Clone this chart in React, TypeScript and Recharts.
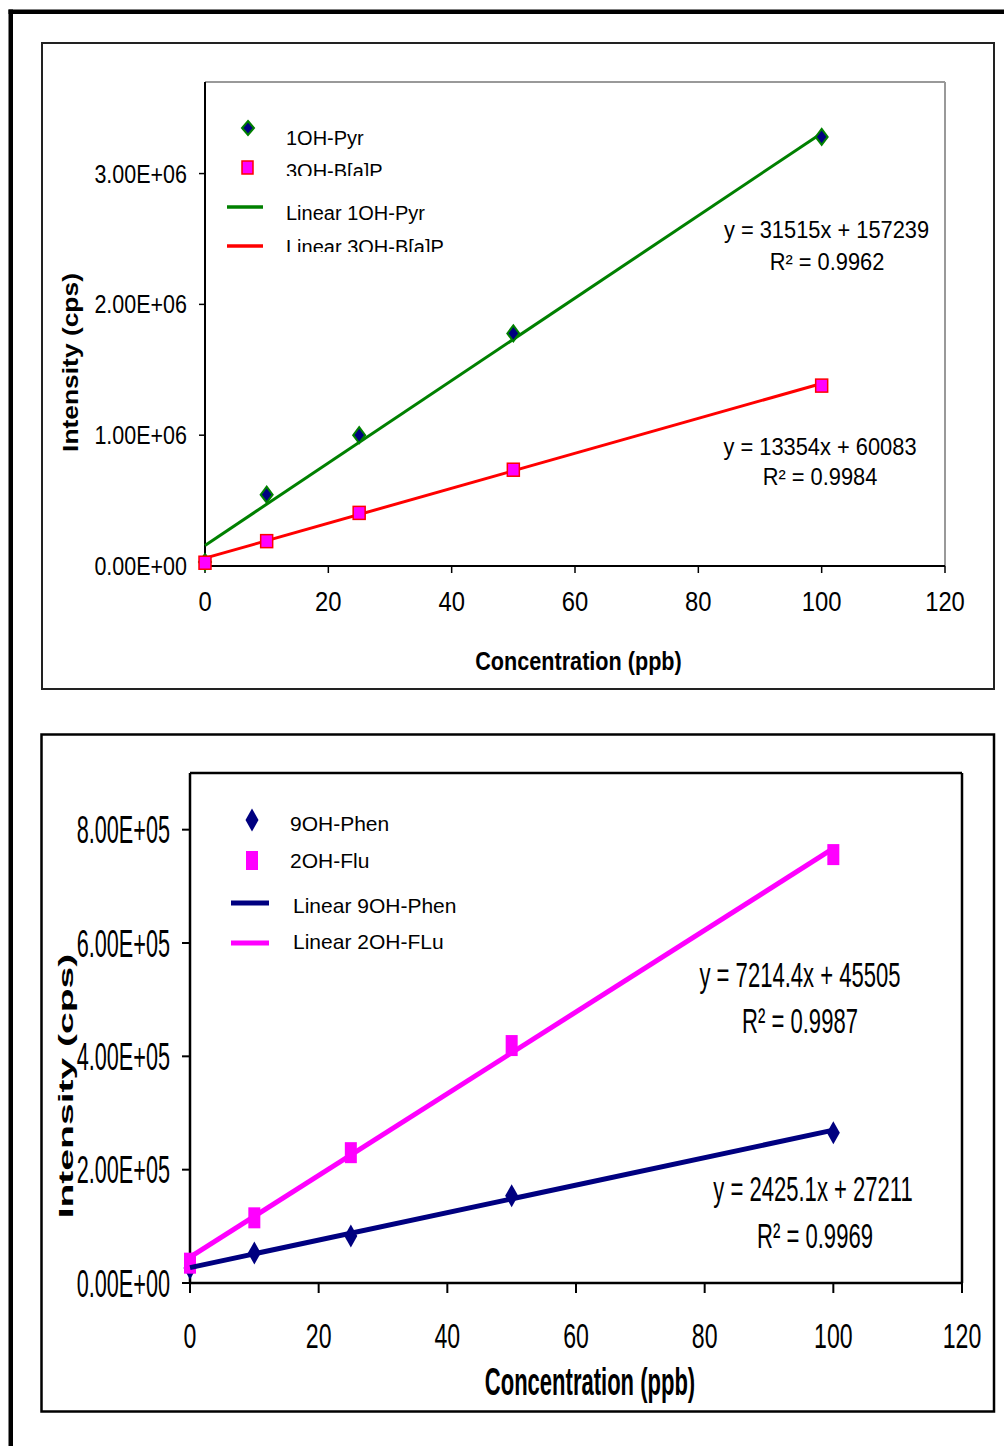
import React from 'react';
import { ScatterChart, Scatter, XAxis, YAxis, ReferenceLine, Legend } from 'recharts';

const FONT = '"Liberation Sans", Arial, Helvetica, sans-serif';

// ---------- Top chart data ----------
const concentrations = [0, 10, 25, 50, 100];
const pyr1OH = [30000, 545000, 1000000, 1778000, 3280000];
const bap3OH = [25000, 190000, 406000, 736000, 1379000];
const trendX = [0, 100];
const fitPyr1OH = [157239, 3308739];
const fitBap3OH = [60083, 1395483];
const xTicks = [0, 20, 40, 60, 80, 100, 120];
const xLabels = ['0', '20', '40', '60', '80', '100', '120'];
const topYTicks = [0, 1000000, 2000000, 3000000];
const topYLabels = ['0.00E+00', '1.00E+06', '2.00E+06', '3.00E+06'];
const topEq = ['y = 31515x + 157239', 'R² = 0.9962', 'y = 13354x + 60083', 'R² = 0.9984'];
const topLegend = ['1OH-Pyr', '3OH-B[a]P', 'Linear 1OH-Pyr', 'Linear 3OH-B[a]P'];

// ---------- Bottom chart data ----------
const phen9OH = [26500, 53000, 83000, 154000, 265000];
const flu2OH = [35000, 115000, 230000, 419000, 756000];
const fitPhen9OH = [27211, 269721];
const fitFlu2OH = [45505, 766945];
const botYTicks = [0, 200000, 400000, 600000, 800000];
const botYLabels = ['0.00E+00', '2.00E+05', '4.00E+05', '6.00E+05', '8.00E+05'];
const botEq = ['y = 7214.4x + 45505', 'R² = 0.9987', 'y = 2425.1x + 27211', 'R² = 0.9969'];
const botLegend = ['9OH-Phen', '2OH-Flu', 'Linear 9OH-Phen', 'Linear 2OH-FLu'];

const xTitle = 'Concentration (ppb)';
const yTitle = 'Intensity (cps)';

const NAVY = '#000080';
const GREEN = '#008000';
const RED = '#FF0000';
const MAGENTA = '#FF00FF';

const toPoints = (xs: number[], ys: number[]) => xs.map((x, i) => ({ x, y: ys[i] }));

function STxt(p: any) {
  const { x, y, fs, sx = 1, anchor = 'start', bold = false, rot = 0, children, clip } = p;
  return (
    <g transform={`translate(${x},${y}) rotate(${rot}) scale(${sx},1)`} clipPath={clip}>
      <text x={0} y={0} fontSize={fs} fontFamily={FONT} fontWeight={bold ? 'bold' : 'normal'} textAnchor={anchor} fill="#000">
        {children}
      </text>
    </g>
  );
}

const makeTick = (values: number[], labels: string[], fs: number, sx: number, anchor: string) => (props: any) => {
  const { x, y, payload } = props;
  const i = values.indexOf(payload.value);
  return <STxt x={x} y={y + fs * 0.358} fs={fs} sx={sx} anchor={anchor}>{labels[i]}</STxt>;
};

const none = () => <g />;

const TopDiamond = (p: any) => {
  const { cx, cy } = p;
  return <polygon points={`${cx},${cy - 8} ${cx + 6},${cy} ${cx},${cy + 8} ${cx - 6},${cy}`} fill={NAVY} stroke={GREEN} strokeWidth={2} />;
};
const TopSquare = (p: any) => {
  const { cx, cy } = p;
  return <rect x={cx - 6} y={cy - 6.5} width={12} height={13} fill={MAGENTA} stroke={RED} strokeWidth={1.5} />;
};
const BotDiamond = (p: any) => {
  const { cx, cy } = p;
  return <polygon points={`${cx},${cy - 11.5} ${cx + 6.5},${cy} ${cx},${cy + 11.5} ${cx - 6.5},${cy}`} fill={NAVY} />;
};
const BotSquare = (p: any) => {
  const { cx, cy } = p;
  return <rect x={cx - 6} y={cy - 10.5} width={12} height={21} fill={MAGENTA} />;
};

const TopLegendContent = () => (
  <svg width={1004} height={720} style={{ position: 'absolute', left: 0, top: 0 }}>
    <defs>
      <clipPath id="clipA"><rect x={-10} y={-40} width={300} height={38.5} /></clipPath>
      <clipPath id="clipB"><rect x={-10} y={-40} width={300} height={38.5} /></clipPath>
    </defs>
    <polygon points="248,121 254,128 248,135 242,128" fill={NAVY} stroke={GREEN} strokeWidth={2} />
    <rect x={242} y={161} width={11} height={13} fill={MAGENTA} stroke={RED} strokeWidth={1.5} />
    <line x1={227} x2={263} y1={207} y2={207} stroke={GREEN} strokeWidth={3.5} />
    <line x1={227} x2={263} y1={246} y2={246} stroke={RED} strokeWidth={3.5} />
    <STxt x={286} y={145} fs={20}>{topLegend[0]}</STxt>
    <STxt x={286} y={177.5} fs={20} clip="url(#clipA)">{topLegend[1]}</STxt>
    <STxt x={286} y={220} fs={20}>{topLegend[2]}</STxt>
    <STxt x={286} y={253.5} fs={20} clip="url(#clipB)">{topLegend[3]}</STxt>
  </svg>
);

const BotLegendContent = () => (
  <svg width={1004} height={746} style={{ position: 'absolute', left: 0, top: 0 }}>
    <polygon points="252,108.5 258.5,120 252,131.5 245.5,120" fill={NAVY} />
    <rect x={246} y={151} width={12} height={19} fill={MAGENTA} />
    <line x1={231} x2={269} y1={203} y2={203} stroke={NAVY} strokeWidth={5} />
    <line x1={231} x2={269} y1={243} y2={243} stroke={MAGENTA} strokeWidth={5} />
    <STxt x={290} y={131} fs={21}>{botLegend[0]}</STxt>
    <STxt x={290} y={168} fs={21}>{botLegend[1]}</STxt>
    <STxt x={293} y={213} fs={21}>{botLegend[2]}</STxt>
    <STxt x={293} y={249} fs={21}>{botLegend[3]}</STxt>
  </svg>
);

function TopChart() {
  return (
    <ScatterChart width={1004} height={720} margin={{ top: 82, right: 59, bottom: 124, left: 145 }}>
      <XAxis type="number" dataKey="x" domain={[0, 120]} ticks={xTicks}
        axisLine={{ stroke: '#000', strokeWidth: 2 }} tickLine={{ stroke: '#000', strokeWidth: 1.5 }}
        tickSize={7} tickMargin={28} height={30} tick={makeTick(xTicks, xLabels, 28, 0.85, 'middle')} />
      <YAxis type="number" dataKey="y" domain={[0, 3700000]} ticks={topYTicks}
        axisLine={{ stroke: '#000', strokeWidth: 2 }} tickLine={{ stroke: '#000', strokeWidth: 1.5 }}
        tickSize={6} tickMargin={12} width={60} tick={makeTick(topYTicks, topYLabels, 25, 0.86, 'end')} />
      <ReferenceLine y={3700000} stroke="#999" strokeWidth={2} />
      <ReferenceLine x={120} stroke="#999" strokeWidth={2} />
      <Scatter name="Linear 1OH-Pyr" data={toPoints(trendX, fitPyr1OH)} line={{ stroke: GREEN, strokeWidth: 3 }} shape={none} isAnimationActive={false} />
      <Scatter name="Linear 3OH-B[a]P" data={toPoints(trendX, fitBap3OH)} line={{ stroke: RED, strokeWidth: 3 }} shape={none} isAnimationActive={false} />
      <Scatter name="1OH-Pyr" data={toPoints(concentrations, pyr1OH)} shape={TopDiamond} isAnimationActive={false} />
      <Scatter name="3OH-B[a]P" data={toPoints(concentrations, bap3OH)} shape={TopSquare} isAnimationActive={false} />
      <Legend layout="horizontal" verticalAlign="middle" align="center" content={TopLegendContent}
        wrapperStyle={{ left: 0, top: 0, width: 1004, height: 720, pointerEvents: 'none' }} />
    </ScatterChart>
  );
}

function BottomChart() {
  return (
    <ScatterChart width={1004} height={746} margin={{ top: 73, right: 42, bottom: 133, left: 130 }}>
      <XAxis type="number" dataKey="x" domain={[0, 120]} ticks={xTicks}
        axisLine={{ stroke: '#000', strokeWidth: 2.5 }} tickLine={{ stroke: '#000', strokeWidth: 2 }}
        tickSize={10} tickMargin={42} height={30} tick={makeTick(xTicks, xLabels, 35, 0.66, 'middle')} />
      <YAxis type="number" dataKey="y" domain={[0, 900000]} ticks={botYTicks}
        axisLine={{ stroke: '#000', strokeWidth: 2.5 }} tickLine={{ stroke: '#000', strokeWidth: 2 }}
        tickSize={8} tickMargin={12} width={60} tick={makeTick(botYTicks, botYLabels, 38, 0.57, 'end')} />
      <ReferenceLine y={900000} stroke="#000" strokeWidth={2.5} />
      <ReferenceLine x={120} stroke="#000" strokeWidth={2.5} />
      <Scatter name="9OH-Phen" data={toPoints(concentrations, phen9OH)} shape={BotDiamond} isAnimationActive={false} />
      <Scatter name="2OH-Flu" data={toPoints(concentrations, flu2OH)} shape={BotSquare} isAnimationActive={false} />
      <Scatter name="Linear 2OH-FLu" data={toPoints(trendX, fitFlu2OH)} line={{ stroke: MAGENTA, strokeWidth: 5 }} shape={none} isAnimationActive={false} />
      <Scatter name="Linear 9OH-Phen" data={toPoints(trendX, fitPhen9OH)} line={{ stroke: NAVY, strokeWidth: 5 }} shape={none} isAnimationActive={false} />
      <Legend layout="horizontal" verticalAlign="middle" align="center" content={BotLegendContent}
        wrapperStyle={{ left: 0, top: 0, width: 1004, height: 746, pointerEvents: 'none' }} />
    </ScatterChart>
  );
}

export default function App() {
  return (
    <div style={{ position: 'absolute', left: 0, top: 0, width: 1004, height: 1446, background: '#fff', overflow: 'hidden' }}>
      <svg width={1004} height={1446} style={{ position: 'absolute', left: 0, top: 0 }}>
        <rect x={8.5} y={9.5} width={4.5} height={1437} fill="#000" />
        <rect x={8.5} y={9.5} width={995.5} height={4.5} fill="#000" />
        <rect x={42} y={43} width={952} height={646} fill="none" stroke="#222" strokeWidth={2} />
        <rect x={41.5} y={734.5} width={952.5} height={677} fill="none" stroke="#000" strokeWidth={2.5} />
        {/* top titles & equations */}
        <STxt x={578.5} y={670} fs={25} sx={0.865} bold anchor="middle">{xTitle}</STxt>
        <STxt x={78} y={362.5} fs={22} sx={1.2} bold rot={-90} anchor="middle">{yTitle}</STxt>
        <STxt x={826.5} y={238} fs={23} sx={0.95} anchor="middle">{topEq[0]}</STxt>
        <STxt x={827} y={270} fs={23} sx={0.95} anchor="middle">{topEq[1]}</STxt>
        <STxt x={820} y={455} fs={23} sx={0.95} anchor="middle">{topEq[2]}</STxt>
        <STxt x={820} y={485} fs={23} sx={0.95} anchor="middle">{topEq[3]}</STxt>
        {/* bottom titles & equations */}
        <STxt x={590} y={1395} fs={39} sx={0.565} bold anchor="middle">{xTitle}</STxt>
        <STxt x={73} y={1086} fs={21} sx={1.86} bold rot={-90} anchor="middle">{yTitle}</STxt>
        <STxt x={800} y={987} fs={35} sx={0.63} anchor="middle">{botEq[0]}</STxt>
        <STxt x={800} y={1033} fs={35} sx={0.63} anchor="middle">{botEq[1]}</STxt>
        <STxt x={813} y={1201} fs={35} sx={0.63} anchor="middle">{botEq[2]}</STxt>
        <STxt x={815} y={1248} fs={35} sx={0.63} anchor="middle">{botEq[3]}</STxt>
      </svg>
      <div style={{ position: 'absolute', left: 0, top: 0 }}>
        <TopChart />
      </div>
      <div style={{ position: 'absolute', left: 0, top: 700 }}>
        <BottomChart />
      </div>
    </div>
  );
}
